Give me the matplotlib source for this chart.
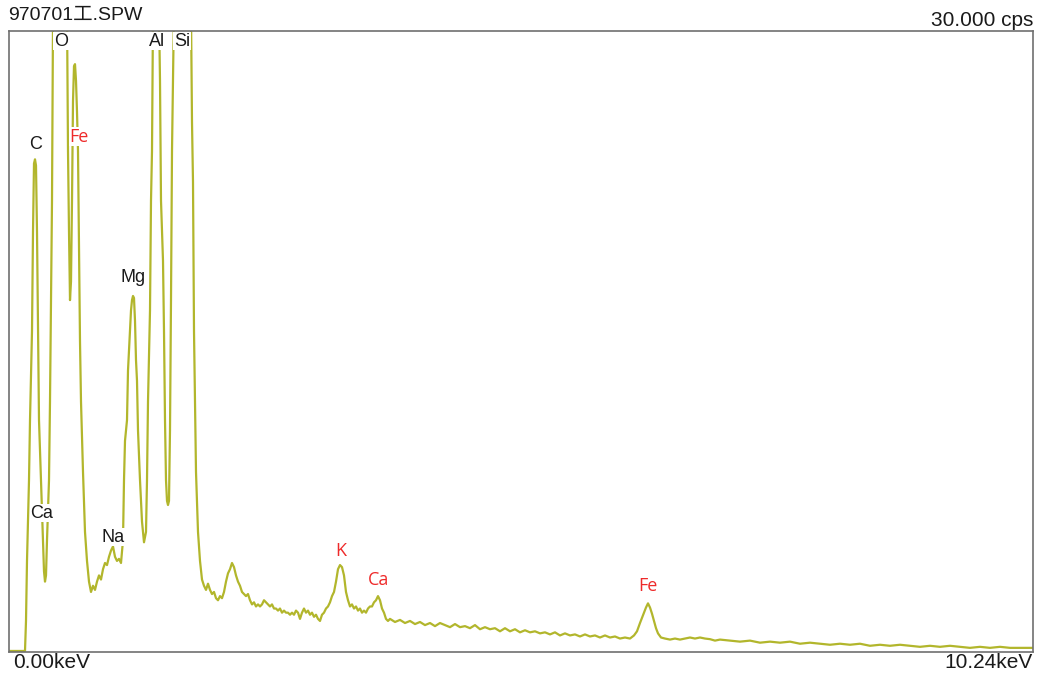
import numpy as np
import matplotlib
matplotlib.use('Agg')
import matplotlib.pyplot as plt

# --- spectrum (keV, cps) ----------------------------------------------------
# low-energy region: C, O, Fe-L, Na, Mg, Al, Si
e_low = [0.00, 0.16, 0.17, 0.18, 0.20, 0.21, 0.23, 0.24, 0.25, 0.26, 0.27,
         0.28, 0.29, 0.30, 0.32, 0.34, 0.35, 0.36, 0.37, 0.38, 0.40, 0.41,
         0.43, 0.44, 0.46, 0.51, 0.56, 0.58, 0.59, 0.60, 0.61, 0.62, 0.63,
         0.64, 0.65, 0.66, 0.67, 0.68, 0.69, 0.70, 0.71, 0.72, 0.74, 0.76,
         0.78, 0.80, 0.82, 0.84, 0.86, 0.88, 0.90, 0.92, 0.94, 0.96, 0.98,
         1.00, 1.02, 1.04, 1.06, 1.08, 1.10, 1.12, 1.14, 1.15, 1.16, 1.18,
         1.19, 1.21, 1.22, 1.23, 1.24, 1.25, 1.26, 1.27, 1.28, 1.29, 1.31,
         1.33, 1.35, 1.37, 1.38, 1.39, 1.41, 1.42, 1.43, 1.44, 1.47, 1.50,
         1.51, 1.52, 1.54, 1.55, 1.56, 1.57, 1.58, 1.59, 1.60, 1.61, 1.62,
         1.63, 1.65, 1.74, 1.82, 1.83, 1.84, 1.85, 1.86, 1.87, 1.89, 1.91,
         1.93]
c_low = [0.05, 0.05, 1.5, 4.4, 8.3, 11.2, 15.5, 20.3, 23.6, 23.8, 23.5,
         20.3, 15.5, 11.2, 8.3, 5.4, 3.9, 3.4, 3.7, 5.4, 8.3, 12.1,
         21.8, 31.0, 40.0, 48.0, 40.0, 31.0, 24.2, 20.3, 17.0, 17.9, 21.8,
         26.6, 28.3, 28.4, 27.6, 26.1, 24.2, 19.4, 15.0, 12.1, 8.7, 5.8,
         4.4, 3.4, 2.9, 3.2, 3.0, 3.4, 3.7, 3.5, 4.0, 4.3, 4.2,
         4.6, 4.9, 5.1, 4.6, 4.4, 4.5, 4.3, 5.4, 8.3, 10.2, 11.2,
         13.6, 15.5, 16.5, 17.0, 17.2, 17.1, 16.0, 14.1, 13.1, 10.7, 8.3,
         6.3, 5.3, 5.8, 8.3, 12.1, 16.5, 21.8, 24.2, 31.0, 45.0, 31.0,
         27.6, 21.8, 18.9, 15.5, 11.2, 8.3, 7.3, 7.1, 7.3, 10.7, 17.0,
         24.2, 31.0, 70.0, 31.0, 25.6, 22.7, 15.5, 12.1, 8.7, 5.8, 4.4,
         3.5]

# middle region: 2.2 keV bump, K, Ca
e_mid = [1.95, 1.97, 1.99, 2.01, 2.03, 2.05, 2.07, 2.09, 2.11, 2.13, 2.15,
         2.17, 2.19, 2.21, 2.23, 2.25, 2.27, 2.29, 2.31, 2.33, 2.35, 2.37,
         2.39, 2.41, 2.43, 2.45, 2.47, 2.49, 2.51, 2.53, 2.55, 2.57, 2.59,
         2.61, 2.63, 2.65, 2.67, 2.69, 2.71, 2.73, 2.75, 2.77, 2.79, 2.81,
         2.83, 2.85, 2.87, 2.89, 2.91, 2.93, 2.95, 2.97, 2.99, 3.01, 3.03,
         3.05, 3.07, 3.09, 3.11, 3.13, 3.15, 3.17, 3.19, 3.21, 3.23, 3.25,
         3.27, 3.29, 3.31, 3.33, 3.35, 3.37, 3.39, 3.41, 3.43, 3.45, 3.47,
         3.49, 3.51, 3.53, 3.55, 3.57, 3.59, 3.61, 3.63, 3.65, 3.67, 3.69,
         3.71, 3.73, 3.75, 3.77, 3.79, 3.81]
c_mid = [3.2, 3.0, 3.3, 3.0, 2.8, 2.9, 2.6, 2.5, 2.7, 2.6, 2.9,
         3.4, 3.8, 4.0, 4.3, 4.1, 3.7, 3.4, 3.2, 2.9, 2.8, 2.7,
         2.8, 2.5, 2.3, 2.4, 2.2, 2.3, 2.2, 2.3, 2.5, 2.4, 2.3,
         2.2, 2.3, 2.1, 2.1, 2.0, 2.1, 1.9, 2.0, 1.9, 1.9, 1.8,
         1.9, 1.8, 2.0, 1.9, 1.6, 1.9, 2.1, 1.9, 2.0, 1.8, 1.9,
         1.7, 1.8, 1.6, 1.5, 1.8, 1.9, 2.1, 2.2, 2.4, 2.7, 2.9,
         3.4, 4.0, 4.2, 4.1, 3.7, 2.9, 2.5, 2.2, 2.3, 2.1, 2.2,
         2.0, 2.1, 1.9, 2.0, 1.9, 2.1, 2.2, 2.2, 2.4, 2.5, 2.7,
         2.5, 2.1, 1.9, 1.6, 1.5, 1.6]

# high-energy tail with Fe-K
e_high = [3.86, 3.91, 3.96, 4.01, 4.06, 4.11, 4.16, 4.21, 4.26, 4.31, 4.36,
          4.41, 4.46, 4.51, 4.56, 4.61, 4.66, 4.71, 4.76, 4.81, 4.86, 4.91,
          4.96, 5.01, 5.06, 5.11, 5.16, 5.21, 5.26, 5.31, 5.36, 5.41, 5.46,
          5.51, 5.56, 5.61, 5.66, 5.71, 5.76, 5.81, 5.86, 5.91, 5.96, 6.01,
          6.06, 6.11, 6.16, 6.21, 6.25, 6.28, 6.31, 6.33, 6.35, 6.37, 6.39,
          6.41, 6.43, 6.45, 6.47, 6.49, 6.52, 6.56, 6.61, 6.66, 6.71, 6.76,
          6.81, 6.86, 6.91, 6.96, 7.01, 7.06, 7.11, 7.21, 7.31, 7.41, 7.51,
          7.61, 7.71, 7.81, 7.91, 8.01, 8.11, 8.21, 8.31, 8.41, 8.51, 8.61,
          8.71, 8.81, 8.91, 9.01, 9.11, 9.21, 9.31, 9.41, 9.51, 9.61, 9.71,
          9.81, 9.91, 10.01, 10.11, 10.24]
c_high = [1.45, 1.55, 1.40, 1.50, 1.35, 1.45, 1.30, 1.40, 1.25, 1.40, 1.30,
          1.20, 1.35, 1.20, 1.25, 1.15, 1.30, 1.10, 1.20, 1.10, 1.15, 1.00,
          1.15, 1.00, 1.10, 0.95, 1.05, 0.95, 1.00, 0.90, 0.95, 0.85, 0.95,
          0.80, 0.90, 0.80, 0.85, 0.75, 0.85, 0.75, 0.80, 0.70, 0.80, 0.70,
          0.75, 0.65, 0.70, 0.65, 0.80, 1.00, 1.40, 1.65, 1.90, 2.15, 2.35,
          2.15, 1.85, 1.50, 1.15, 0.90, 0.70, 0.65, 0.60, 0.65, 0.60, 0.65,
          0.70, 0.65, 0.70, 0.65, 0.62, 0.55, 0.60, 0.55, 0.50, 0.55, 0.45,
          0.50, 0.45, 0.50, 0.40, 0.45, 0.40, 0.35, 0.40, 0.35, 0.40, 0.30,
          0.35, 0.30, 0.35, 0.30, 0.25, 0.30, 0.25, 0.30, 0.25, 0.20, 0.25,
          0.20, 0.25, 0.20, 0.20, 0.20]

# peak labels: (text, keV, cps)
black_labels = [('C', 0.27, 24.5), ('O', 0.52, 29.5), ('Al', 1.48, 29.5),
                ('Si', 1.73, 29.5), ('Mg', 1.24, 18.1), ('Ca', 0.33, 6.7),
                ('Na', 1.04, 5.55)]
red_labels = [('Fe', 0.70, 24.9), ('K', 3.32, 4.9), ('Ca', 3.70, 3.5),
              ('Fe', 6.39, 3.2)]

energy = np.array(e_low + e_mid + e_high)
counts = np.array(c_low + c_mid + c_high)

fig = plt.figure(figsize=(10.44, 6.81), dpi=100)
ax = fig.add_axes([9 / 1044, 29 / 681, 1024 / 1044, 621 / 681])
ax.plot(energy, counts, c='#b2b62c', lw=1.6)
ax.set_xlim(0, 10.24)
ax.set_ylim(0, 30)
ax.set_xticks([])
ax.set_yticks([])
for sp in ax.spines.values():
    sp.set_color('#707070')
    sp.set_linewidth(1.2)

box = dict(facecolor='white', edgecolor='none', pad=0.4)
for txt, x, y in black_labels:
    ax.text(x, y, txt, ha='center', va='center', fontsize=13,
            family='Liberation Sans', color='#1a1a1a', bbox=box)
for txt, x, y in red_labels:
    ax.text(x, y, txt, ha='center', va='center', fontsize=13,
            family='Open Sans', color='#ee2a2a', bbox=box)

fig.text(8 / 1044, 1 - 15 / 681, '970701工.SPW', ha='left', va='center',
         fontsize=14, family=['Liberation Sans', 'Noto Sans CJK JP'],
         color='#1a1a1a')
fig.text(1033 / 1044, 1 - 21 / 681, '30.000 cps', ha='right', va='center',
         fontsize=15, family='Liberation Sans', color='#1a1a1a')
fig.text(13 / 1044, 1 - 663 / 681, '0.00keV', ha='left', va='center',
         fontsize=15, family='Liberation Sans', color='#1a1a1a')
fig.text(1033 / 1044, 1 - 663 / 681, '10.24keV', ha='right', va='center',
         fontsize=15, family='Liberation Sans', color='#1a1a1a')

fig.savefig('out.png', dpi=100, facecolor='white')
